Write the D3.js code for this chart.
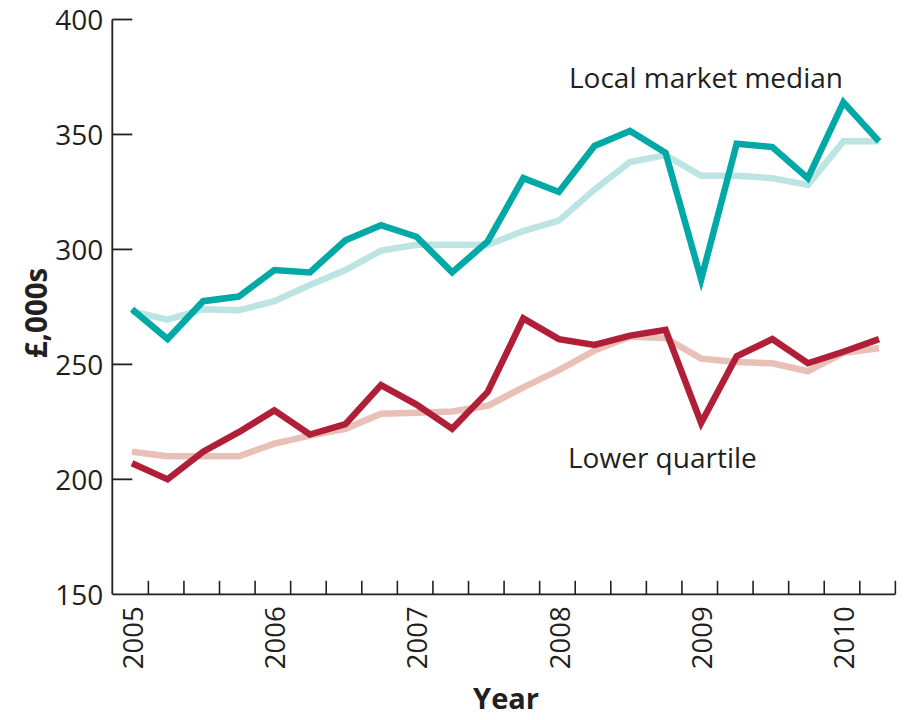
<!DOCTYPE html>
<html>
<head>
<meta charset="utf-8">
<script src="https://cdn.jsdelivr.net/npm/d3@7"></script>
<style>
  html, body { margin: 0; padding: 0; background: #fff; }
  svg { display: block; }
  text { font-family: "Open Sans", "Noto Sans", sans-serif; fill: #231f20; }
</style>
</head>
<body>
<svg id="chart" width="908" height="720"></svg>
<script>
// Quarterly data, 2005 Q1 .. 2010 Q2
const yearLabels = ["2005", "2006", "2007", "2008", "2009", "2010"];
const yTicks = [150, 200, 250, 300, 350, 400];
const medianValues = [274, 261, 277.5, 279.5, 291, 290, 304, 310.5, 305.5, 290, 303.5, 331,
  325, 345, 351.5, 342, 287, 346, 344.5, 331, 364, 347];
const medianTrend = [273, 269.5, 274, 273.5, 277.5, 284.5, 291, 299.5, 302, 302, 302, 308,
  312.5, 326, 338, 341, 332, 332, 331, 328, 347, 347];
const lowerValues = [207, 200, 212, 220.5, 230, 219.5, 224, 241, 232.5, 222, 238, 270,
  261, 258.5, 262.5, 265, 224.5, 253.5, 261, 250.5, 255.5, 261];
const lowerTrend = [212, 210, 210, 210, 215.5, 219, 222, 228.5, 229, 229.5, 232, 240,
  247.5, 256, 262, 261.5, 252.5, 251, 250.5, 247, 255, 257];
const seriesLabels = ["Local market median", "Lower quartile"];

const svg = d3.select("#chart");
const ink = "#231f20";

const n = medianValues.length;
const x = d3.scaleLinear().domain([0, n - 1]).range([132, 879]);
const y = d3.scaleLinear().domain([150, 400]).range([594.3, 19.5]);
const tickOffset = 0.46;
const x0 = 112.3;

// Y axis
const yAxis = d3.axisLeft(y).tickValues(yTicks).tickSize(0).tickPadding(9);
const gy = svg.append("g").attr("transform", `translate(${x0},0)`).call(yAxis);
gy.select(".domain").remove();
gy.selectAll("text").attr("font-size", 28).attr("font-family", null).attr("fill", ink).attr("dy", "0.37em");
svg.append("line").attr("x1", x0).attr("x2", x0).attr("y1", y(400)).attr("y2", y(150))
  .attr("stroke", ink).attr("stroke-width", 1.8);
svg.append("g").selectAll("line").data(yTicks.filter(v => v > 150)).join("line")
  .attr("x1", x0).attr("x2", x0 + 20).attr("y1", d => y(d)).attr("y2", d => y(d))
  .attr("stroke", ink).attr("stroke-width", 1.8);

// X axis
const tickIdx = d3.range(n).map(i => i + tickOffset);
const xEnd = x(n - 1 + tickOffset);
svg.append("line").attr("x1", x0).attr("x2", xEnd).attr("y1", y(150)).attr("y2", y(150))
  .attr("stroke", ink).attr("stroke-width", 1.8);
svg.append("g").selectAll("line").data(tickIdx).join("line")
  .attr("x1", d => x(d)).attr("x2", d => x(d)).attr("y1", y(150)).attr("y2", y(150) - 13.5)
  .attr("stroke", ink).attr("stroke-width", 1.6);
svg.append("g").selectAll("text").data(yearLabels).join("text")
  .attr("transform", (d, i) => `translate(${x(i * 4) + 0.5},${y(150) + 12}) rotate(-90)`)
  .attr("text-anchor", "end").attr("dy", "0.37em").attr("font-size", 27.5)
  .text(d => d);

// Axis titles
svg.append("text").attr("transform", "translate(37,313) rotate(-90)")
  .attr("text-anchor", "middle").attr("dy", "0.35em").attr("font-size", 29.5).attr("font-weight", "bold")
  .text("£,000s");
svg.append("text").attr("x", 506).attr("y", 709)
  .attr("text-anchor", "middle").attr("font-size", 29).attr("font-weight", "bold")
  .text("Year");

// Lines
const line = d3.line().x((d, i) => x(i)).y(d => y(d));
const draw = (vals, color, w) => svg.append("path").datum(vals)
  .attr("d", line).attr("fill", "none").attr("stroke", color).attr("stroke-width", w)
  .attr("stroke-linejoin", "miter").attr("stroke-miterlimit", 10);
draw(medianTrend, "#bce4e2", 6.5);
draw(lowerTrend, "#e8c0b7", 6.5);
draw(medianValues, "#00a9a5", 6.5);
draw(lowerValues, "#b01f37", 6.5);

// Series labels
svg.append("text").attr("x", 569).attr("y", 88).attr("font-size", 28).text(seriesLabels[0]);
svg.append("text").attr("x", 568).attr("y", 468).attr("font-size", 28).text(seriesLabels[1]);
</script>
</body>
</html>
